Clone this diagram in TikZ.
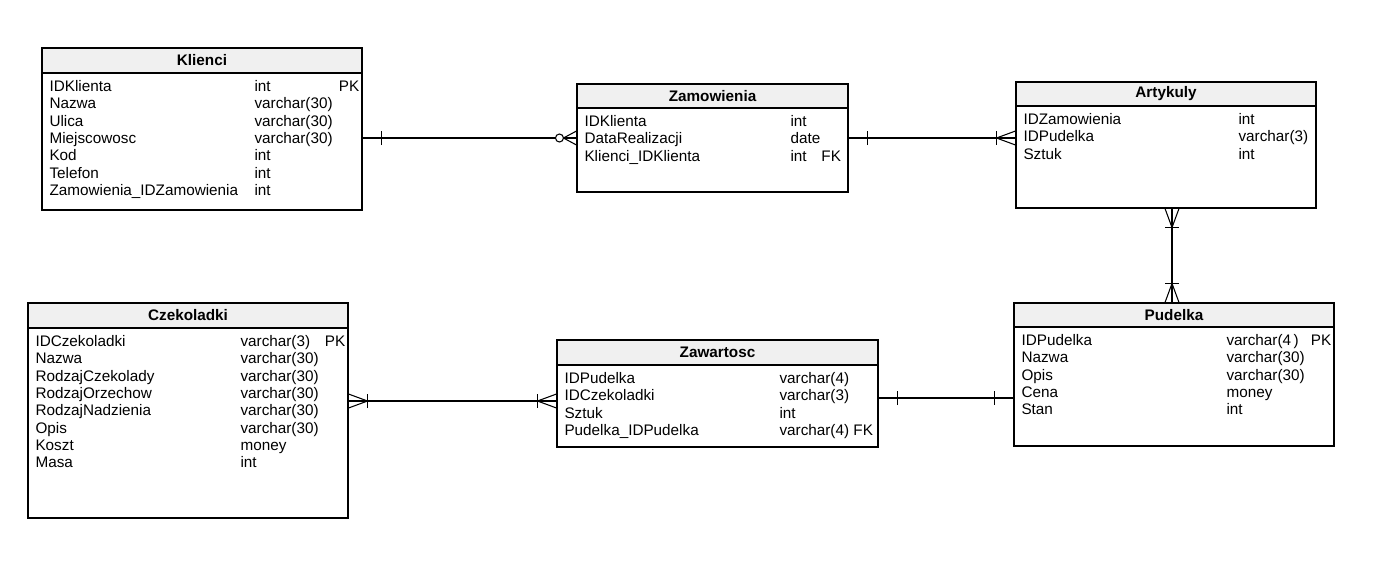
\documentclass[tikz,border=0pt]{standalone}
\usepackage{fontspec}
\setmainfont{Liberation Sans}
\usetikzlibrary{fit}
\newcommand{\withkey}[3][48pt]{\makebox[#1][l]{#2}#3}

\begin{document}
\begin{tikzpicture}[x=0.02cm,y=-0.02cm,line width=0.6pt,
  font=\fontsize{8.7}{9.85}\selectfont,
  tablebox/.style={draw,inner sep=0pt},
  tablehead/.style={draw,fill=gray!12,inner sep=0pt},
  title/.style={font=\fontsize{8.7}{9.85}\selectfont\bfseries},
  rows/.style={anchor=north west,align=left,inner sep=0pt},
  mandatory/.pic={\draw (-19,-7) -- (-19,7);},
  many/.pic={\draw (-19,0) -- (0,-7) (-19,0) -- (0,7);},
  optmany/.pic={\draw (-13,0) -- (0,-7) (-13,0) -- (0,7);
    \draw[fill=white] (-17,0) circle (4);}]
  \useasboundingbox (0,0) rectangle (1396,586);
  % Klienci
  \node[tablehead,fit={(42,48) (362,73)}] (klh) {};
  \node[title] (klt) at (klh.center) {Klienci};
  \node[tablebox,fit={(42,73) (362,210)}] (kl) {};
  \node[rows] (kln) at (49,80) {IDKlienta\\Nazwa\\Ulica\\Miejscowosc\\Kod\\Telefon\\Zamowienia\_IDZamowienia};
  \node[rows] (kly) at (254,80) {\withkey{int}{PK}\\varchar(30)\\varchar(30)\\varchar(30)\\int\\int\\int};
  % Zamowienia
  \node[tablehead,fit={(577,84) (848,108)}] (zmh) {};
  \node[title] (zmt) at (zmh.center) {Zamowienia};
  \node[tablebox,fit={(577,108) (848,192)}] (zm) {};
  \node[rows] (zmn) at (584,115) {IDKlienta\\DataRealizacji\\Klienci\_IDKlienta};
  \node[rows] (zmy) at (790,115) {int\\date\\\withkey[17.6pt]{int}{FK}};
  % Artykuly
  \node[tablehead,fit={(1016,82) (1316,106)}] (arh) {};
  \node[title] (art) at (arh.center) {Artykuly};
  \node[tablebox,fit={(1016,106) (1316,208)}] (ar) {};
  \node[rows] (arn) at (1023,113) {IDZamowienia\\IDPudelka\\Sztuk};
  \node[rows] (ary) at (1238,113) {int\\varchar(3)\\int};
  % Czekoladki
  \node[tablehead,fit={(28,303) (348,328)}] (czh) {};
  \node[title] (czt) at (czh.center) {Czekoladki};
  \node[tablebox,fit={(28,328) (348,518)}] (cz) {};
  \node[rows] (czn) at (35,335) {IDCzekoladki\\Nazwa\\RodzajCzekolady\\RodzajOrzechow\\RodzajNadzienia\\Opis\\Koszt\\Masa};
  \node[rows] (czy) at (240,335) {\withkey{varchar(3)}{PK}\\varchar(30)\\varchar(30)\\varchar(30)\\varchar(30)\\varchar(30)\\money\\int};
  % Zawartosc
  \node[tablehead,fit={(557,340) (878,365)}] (zwh) {};
  \node[title] (zwt) at (zwh.center) {Zawartosc};
  \node[tablebox,fit={(557,365) (878,447)}] (zw) {};
  \node[rows] (zwn) at (564,372) {IDPudelka\\IDCzekoladki\\Sztuk\\Pudelka\_IDPudelka};
  \node[rows] (zwy) at (779,372) {varchar(4)\\varchar(3)\\int\\varchar(4) FK};
  % Pudelka
  \node[tablehead,fit={(1014,303) (1334,327)}] (puh) {};
  \node[title] (put) at (puh.center) {Pudelka};
  \node[tablebox,fit={(1014,327) (1334,446)}] (pu) {};
  \node[rows] (pun) at (1021,334) {IDPudelka\\Nazwa\\Opis\\Cena\\Stan};
  \node[rows] (puy) at (1226,334) {\withkey{varchar(4\,)}{PK}\\varchar(30)\\varchar(30)\\money\\int};
  % Relationships
  \draw (kl.east |- 0,138) -- (zm.west |- 0,138);
  \pic[rotate=180] at (kl.east |- 0,138) {mandatory};
  \pic at (zm.west |- 0,138) {optmany};
  \draw (zm.east |- 0,138) -- (ar.west |- 0,138);
  \pic[rotate=180] at (zm.east |- 0,138) {mandatory};
  \pic at (ar.west |- 0,138) {mandatory};
  \pic at (ar.west |- 0,138) {many};
  \draw (ar.south -| 1172,0) -- (puh.north -| 1172,0);
  \pic[rotate=90] at (ar.south -| 1172,0) {mandatory};
  \pic[rotate=90] at (ar.south -| 1172,0) {many};
  \pic[rotate=-90] at (puh.north -| 1172,0) {mandatory};
  \pic[rotate=-90] at (puh.north -| 1172,0) {many};
  \draw (cz.east |- 0,401) -- (zw.west |- 0,401);
  \pic[rotate=180] at (cz.east |- 0,401) {mandatory};
  \pic[rotate=180] at (cz.east |- 0,401) {many};
  \pic at (zw.west |- 0,401) {mandatory};
  \pic at (zw.west |- 0,401) {many};
  \draw (zw.east |- 0,398) -- (pu.west |- 0,398);
  \pic[rotate=180] at (zw.east |- 0,398) {mandatory};
  \pic at (pu.west |- 0,398) {mandatory};
\end{tikzpicture}
\end{document}
